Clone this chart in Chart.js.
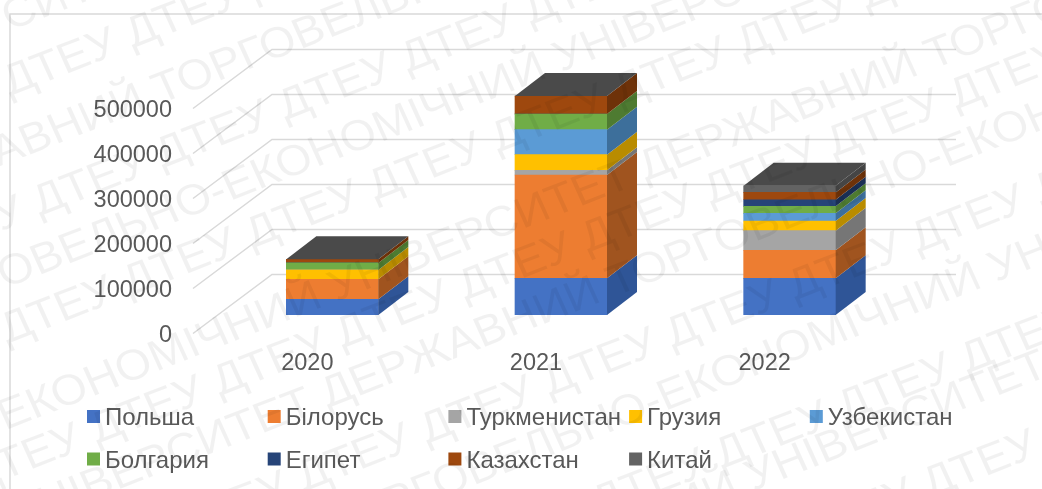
<!DOCTYPE html>
<html>
<head>
<meta charset="utf-8">
<style>
html, body { margin: 0; padding: 0; background: #fff; }
#wrap { width: 1042px; height: 489px; }
</style>
</head>
<body>
<div id="wrap"><canvas id="chart" width="1042" height="489"></canvas></div>
<script src="https://cdn.jsdelivr.net/npm/chart.js@4/dist/chart.umd.min.js"></script>
<script>
const years = ['2020', '2021', '2022'];
const yTicks = [0, 100000, 200000, 300000, 400000, 500000];

const poland = [35000, 81500, 81500];
const belarus = [44500, 229600, 62200];
const turkmenistan = [0, 10400, 43700];
const georgia = [20700, 34800, 21500];
const uzbekistan = [0, 55500, 17000];
const bulgaria = [15500, 34800, 15500];
const egypt = [0, 0, 14800];
const kazakhstan = [8000, 40000, 16300];
const china = [0, 0, 14800];

const labels = ['Польша', 'Білорусь', 'Туркменистан', 'Грузия', 'Узбекистан', 'Болгария', 'Египет', 'Казахстан', 'Китай'];
const series = [poland, belarus, turkmenistan, georgia, uzbekistan, bulgaria, egypt, kazakhstan, china];
const colors = ['#4472c4', '#ed7d31', '#a5a5a5', '#ffc000', '#5b9bd5', '#70ad47', '#264478', '#9e480e', '#636363'];
const sideColors = ['#2f5597', '#a0541f', '#767676', '#b98c00', '#3d6f9b', '#4e7b31', '#1a2f54', '#6e3209', '#454545'];

const font = "'Liberation Sans', Arial, sans-serif";
const textColor = '#595959';
const gridColor = '#d9d9d9';

// 3d offsets, the picture is a pseudo 3d column chart
const wall = { startDy: -3, dx: 79, dy: -62, rightDx: 77 };
const barShift = { dx: 25, dy: -21 };
const barDepth = { dx: 30, dy: -23 };

const wallPlugin = {
    id: 'wall',
    beforeDraw(chart) {
        const { ctx, chartArea, scales } = chart;
        ctx.save();
        ctx.strokeStyle = gridColor;
        ctx.lineWidth = 1.5;
        ctx.beginPath();
        ctx.moveTo(10, 489);
        ctx.lineTo(10, 14);
        ctx.lineTo(1042, 14);
        ctx.stroke();
        yTicks.forEach(t => {
            const y = Math.round(scales.y.getPixelForValue(t)) + 0.5;
            ctx.beginPath();
            ctx.moveTo(chartArea.left, y + wall.startDy);
            ctx.lineTo(chartArea.left + wall.dx, y + wall.dy);
            ctx.lineTo(chartArea.right + wall.rightDx, y + wall.dy);
            ctx.stroke();
        });
        ctx.restore();
    }
};

const depthPlugin = {
    id: 'depth',
    beforeDatasetsDraw(chart) {
        chart.ctx.save();
        chart.ctx.translate(barShift.dx, barShift.dy);
    },
    afterDatasetsDraw(chart) {
        const { ctx } = chart;
        const { dx, dy } = barDepth;
        years.forEach((year, i) => {
            let topBar = null;
            chart.data.datasets.forEach((ds, d) => {
                const bar = chart.getDatasetMeta(d).data[i];
                if (!ds.data[i]) return;
                const right = bar.x + bar.width / 2;
                ctx.fillStyle = sideColors[d];
                ctx.beginPath();
                ctx.moveTo(right, bar.base);
                ctx.lineTo(right + dx, bar.base + dy);
                ctx.lineTo(right + dx, bar.y + dy);
                ctx.lineTo(right, bar.y);
                ctx.closePath();
                ctx.fill();
                topBar = bar;
            });
            const left = topBar.x - topBar.width / 2;
            const right = topBar.x + topBar.width / 2;
            ctx.fillStyle = '#4a4a4a';
            ctx.beginPath();
            ctx.moveTo(left, topBar.y);
            ctx.lineTo(left + dx, topBar.y + dy);
            ctx.lineTo(right + dx, topBar.y + dy);
            ctx.lineTo(right, topBar.y);
            ctx.closePath();
            ctx.fill();
        });
        ctx.restore();
    }
};

// legend sits on a fixed grid: 5 columns, 2 rows
const legendPlugin = {
    id: 'gridLegend',
    afterDraw(chart) {
        const { ctx } = chart;
        ctx.save();
        ctx.font = '24px ' + font;
        ctx.textBaseline = 'middle';
        labels.forEach((label, i) => {
            const x = 87 + (i % 5) * 180.7;
            const y = 416.5 + Math.floor(i / 5) * 42.5;
            ctx.fillStyle = colors[i];
            ctx.fillRect(x, y - 6.5, 13, 13);
            ctx.fillStyle = textColor;
            ctx.fillText(label, x + 18, y + 2);
        });
        ctx.restore();
    }
};

// repeated diagonal watermark: long text rows alternate with rows of the short name
const longRow = 'ДЕРЖАВНИЙ ТОРГОВЕЛЬНО-ЕКОНОМІЧНИЙ УНІВЕРСИТЕТ ';
const shortRow = 'ДТЕУ ';
const longAnchors = [
    [5, 20, 'ДЕРЖАВНИЙ ТОРГОВЕЛЬНО-ЕКОНОМІЧНИЙ УНІВЕР'],
    [155, 93, 'ДЕРЖАВНИЙ '],
    [225, 190, 'ДЕРЖАВНИЙ ТОРГОВЕЛЬНО-'],
    [641, 170, ''],
    [323, 397, ''],
    [660, 400, 'ДЕРЖАВНИЙ ТОРГОВЕЛЬНО-'],
    [748, 480, 'ДЕРЖАВНИЙ ТОРГОВЕЛЬНО-ЕКОНОМІЧНИЙ ']
];
const shortAnchors = [[5, 85], [35, 205], [125, 285], [215, 385], [545, 385], [840, 410], [925, 487]];

const watermarkPlugin = {
    id: 'watermark',
    afterDraw(chart) {
        const { ctx } = chart;
        const angle = -22.8 * Math.PI / 180;
        ctx.save();
        ctx.font = '43px ' + font;
        ctx.fillStyle = 'rgba(0, 0, 0, 0.055)';
        ctx.textBaseline = 'middle';
        const drawRow = (x, y, text, prefix) => {
            const w = ctx.measureText(text).width;
            const start = -ctx.measureText(prefix).width;
            ctx.save();
            ctx.translate(x, y);
            ctx.scale(1.08, 1);
            ctx.rotate(angle);
            for (let k = -12; k <= 12; k++) {
                const px = start + k * w;
                if (px + w > -1300 && px < 1300) ctx.fillText(text, px, 0);
            }
            ctx.restore();
        };
        longAnchors.forEach(a => drawRow(a[0], a[1], longRow, a[2]));
        shortAnchors.forEach(a => drawRow(a[0], a[1], shortRow, ''));
        ctx.restore();
    }
};

new Chart(document.getElementById('chart'), {
    type: 'bar',
    data: {
        labels: years,
        datasets: labels.map((label, i) => ({
            label: label,
            data: series[i],
            backgroundColor: colors[i],
            borderWidth: 0
        }))
    },
    options: {
        responsive: false,
        animation: false,
        barThickness: 92,
        layout: { padding: { left: 0, top: 111, right: 163, bottom: 0 } },
        plugins: { legend: { display: false }, tooltip: { enabled: false } },
        scales: {
            x: {
                stacked: true,
                grid: { display: false, drawTicks: false },
                border: { display: false },
                ticks: { color: textColor, font: { family: font, size: 23.5 }, padding: 13 },
                afterFit(scale) { scale.height = 153; }
            },
            y: {
                stacked: true,
                min: 0,
                max: 500000,
                afterBuildTicks(scale) { scale.ticks = yTicks.map(v => ({ value: v })); },
                grid: { display: false, drawTicks: false },
                border: { display: false },
                ticks: {
                    color: textColor,
                    font: { family: font, size: 23.5 },
                    padding: 21,
                    autoSkip: false,
                    callback: v => String(v)
                },
                afterFit(scale) { scale.width = 193; }
            }
        }
    },
    plugins: [wallPlugin, depthPlugin, legendPlugin, watermarkPlugin]
});
</script>
</body>
</html>
